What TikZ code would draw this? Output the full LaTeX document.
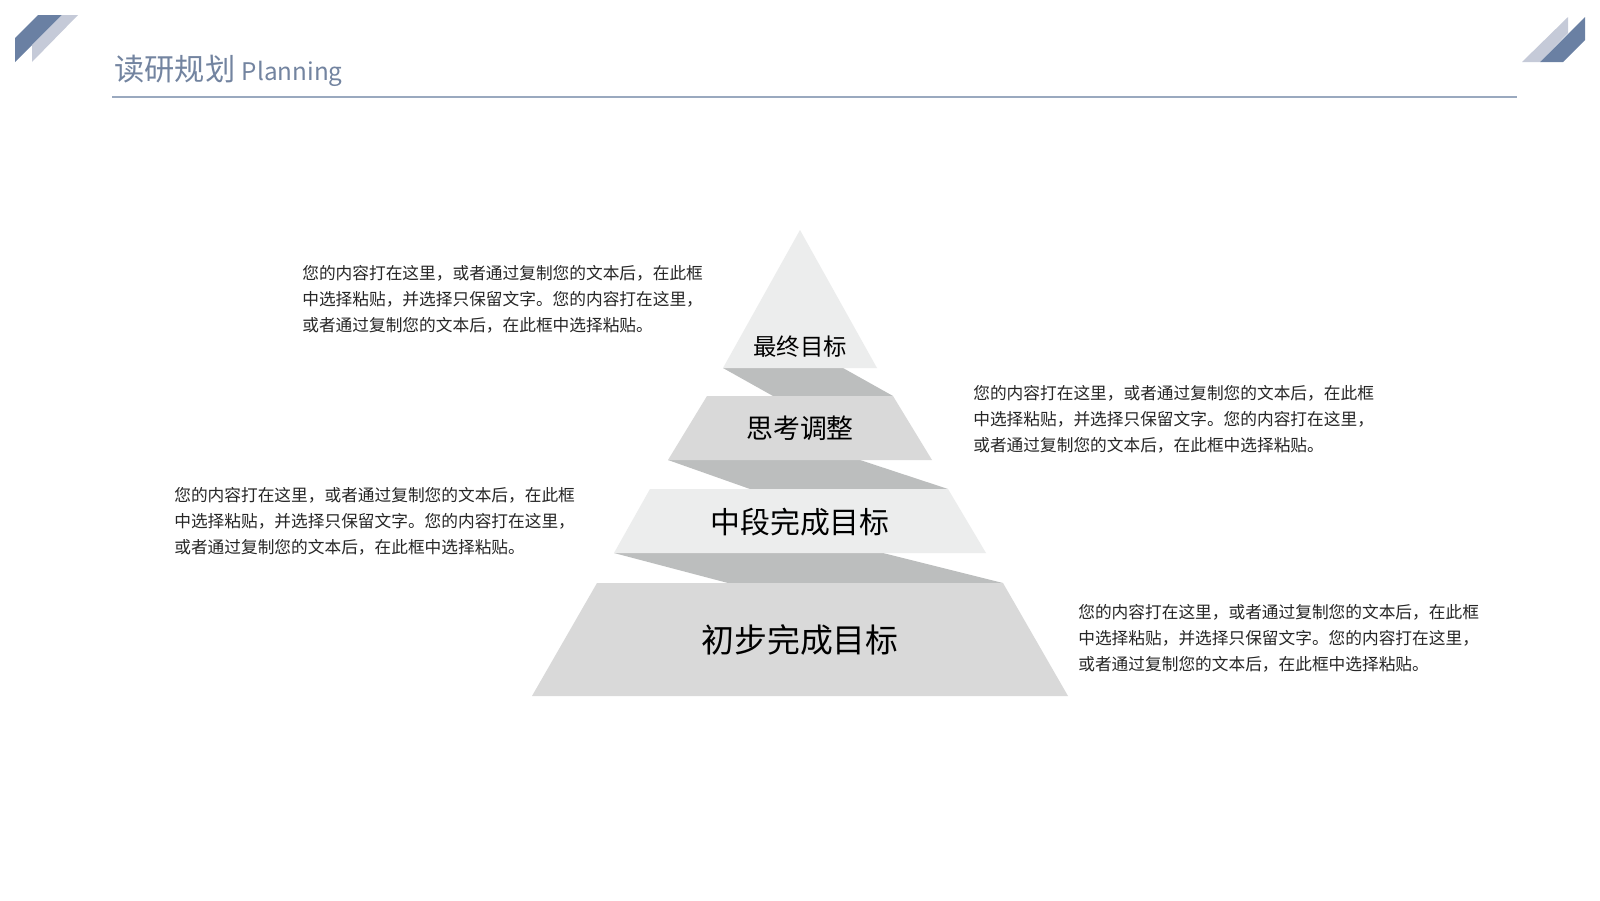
\documentclass[tikz,border=0pt]{standalone}
\usepackage{fontspec}
\setmainfont{Noto Sans CJK SC}
\definecolor{decodark}{HTML}{6A80A3}
\definecolor{decolight}{HTML}{C5CAD8}
\definecolor{headtext}{HTML}{7384A0}
\definecolor{headline}{HTML}{9AA9BF}
\definecolor{tierlight}{HTML}{ECEDED}
\definecolor{tiermid}{HTML}{D9D9D9}
\definecolor{tiershade}{HTML}{BCBEBE}
\definecolor{bodytext}{HTML}{262626}

\begin{document}
\begin{tikzpicture}[x=0.02cm, y=-0.02cm,
    label/.style={text=black, inner sep=0pt},
    blurb/.style={anchor=west, align=left, text=bodytext, inner sep=0pt,
      font=\fontsize{9.5}{14.8}\selectfont}]

        \fill[white] (0,0) rectangle (1600,900);
        \useasboundingbox (0,0) rectangle (1600,900);

        % corner marks and title
        \fill[decodark] (15,62) -- (15,38) -- (38,15) -- (62,15) -- cycle;
        \fill[decolight] (32,45) -- (62,15) -- (78,15) -- (32,62) -- cycle;
        \fill[decolight] (1568,17) -- (1568,33) -- (1540,62) -- (1522,62) -- cycle;
        \fill[decodark] (1585,17) -- (1585,40) -- (1563,62) -- (1540,62) -- cycle;
        \node[anchor=base west, text=headtext, inner sep=0pt, font=\fontsize{17.2}{20}\selectfont] (title) at (114,80) {读研规划 {\fontsize{13.8}{16}\selectfont Planning}};
        \draw[headline, line width=0.6pt] (112,97) -- (1517,97);

        % shadows
        \fill[tiershade] (723,368) -- (843,368) -- (893,396) -- (773,396) -- cycle;
        \fill[tiershade] (668,460) -- (860,460) -- (948,489) -- (750,489) -- cycle;
        \fill[tiershade] (614,553) -- (883,553) -- (1003,583) -- (728,583) -- cycle;

        % tiers
        \fill[tierlight] (800,230) -- (877,368) -- (723,368) -- cycle;
        \fill[tiermid] (707,396) -- (893,396) -- (932,460) -- (668,460) -- cycle;
        \fill[tierlight] (650,489) -- (948,489) -- (986,553) -- (614,553) -- cycle;
        \fill[tiermid] (597,583) -- (1003,583) -- (1068,696) -- (532,696) -- cycle;

        \node[label, font=\fontsize{13.3}{16}\selectfont] (final) at (800,347) {最终目标};
        \node[label, font=\fontsize{15.3}{18}\selectfont] (adjust) at (800,428) {思考调整};
        \node[label, font=\fontsize{17}{20}\selectfont] (middle) at (800,522) {中段完成目标};
        \node[label, font=\fontsize{18.7}{22}\selectfont] (first) at (800,640) {初步完成目标};

        \node[blurb] (noteA) at (302,299) {您的内容打在这里，或者通过复制您的文本后，在此框\\中选择粘贴，并选择只保留文字。您的内容打在这里，\\或者通过复制您的文本后，在此框中选择粘贴。};
        \node[blurb] (noteB) at (973,419) {您的内容打在这里，或者通过复制您的文本后，在此框\\中选择粘贴，并选择只保留文字。您的内容打在这里，\\或者通过复制您的文本后，在此框中选择粘贴。};
        \node[blurb] (noteC) at (174,521) {您的内容打在这里，或者通过复制您的文本后，在此框\\中选择粘贴，并选择只保留文字。您的内容打在这里，\\或者通过复制您的文本后，在此框中选择粘贴。};
        \node[blurb] (noteD) at (1078,638) {您的内容打在这里，或者通过复制您的文本后，在此框\\中选择粘贴，并选择只保留文字。您的内容打在这里，\\或者通过复制您的文本后，在此框中选择粘贴。};

      \end{tikzpicture}
\end{document}
